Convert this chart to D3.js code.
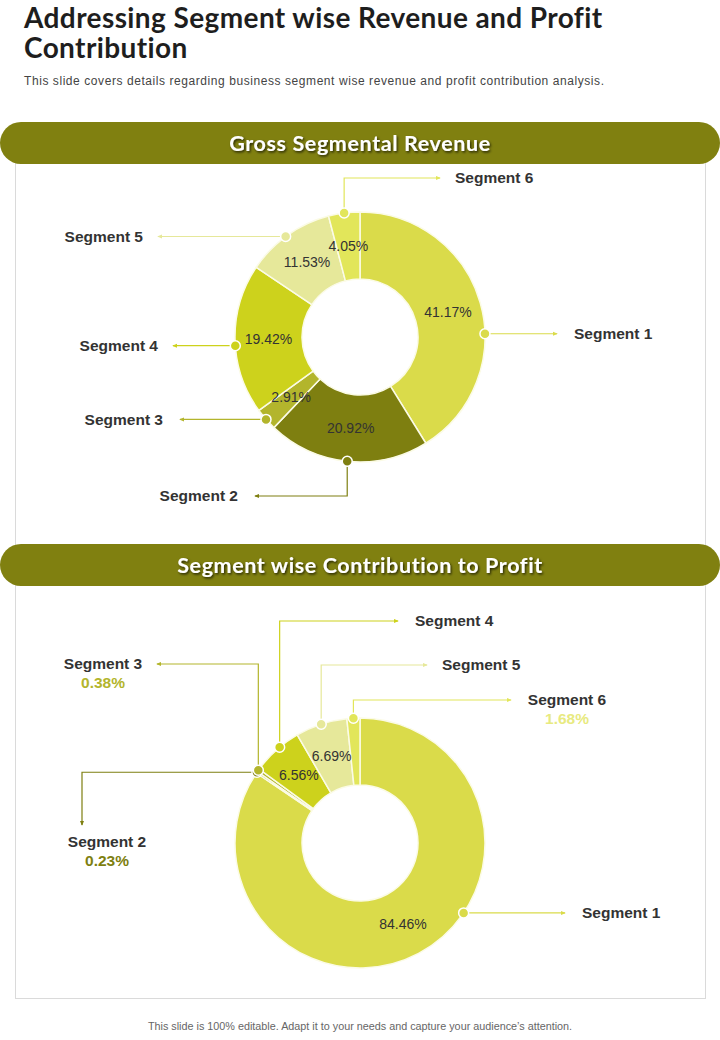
<!DOCTYPE html>
<html lang="en">
<head>
  <meta charset="UTF-8">
  <title>Addressing Segment wise Revenue and Profit Contribution</title>
  <style>
    body {
      margin: 0;
      padding: 0;
      background-color: #fff;
    }

    .title {
      font-family: Lato, "Open Sans", sans-serif;
      font-weight: 700;
      font-size: 28px;
      letter-spacing: 0.4px;
      fill: #1e1e1e;
    }

    .subtitle {
      font-family: "Liberation Sans", Arial, sans-serif;
      font-size: 12px;
      fill: #444;
    }

    .band-title {
      font-family: Lato, "Open Sans", sans-serif;
      font-weight: 700;
      font-size: 21.5px;
      letter-spacing: 0.6px;
      fill: #fff;
    }

    .seg-label {
      font-family: "Liberation Sans", Arial, sans-serif;
      font-weight: 700;
      font-size: 15.5px;
      fill: #333;
    }

    .seg-value {
      font-family: "Liberation Sans", Arial, sans-serif;
      font-weight: 700;
      font-size: 15.5px;
    }

    .pct {
      font-family: "Liberation Sans", Arial, sans-serif;
      font-size: 14px;
      fill: #333;
    }

    .footer {
      font-family: "Liberation Sans", Arial, sans-serif;
      font-size: 10.8px;
      fill: #666;
    }
  </style>
</head>
<body>
  <svg id="slide" width="720" height="1040"></svg>
  <script src="https://d3js.org/d3.v7.min.js"></script>
  <script>
    // data
    const segments = ['Segment 1', 'Segment 2', 'Segment 3', 'Segment 4', 'Segment 5', 'Segment 6'];
    const revenueShare = [41.17, 20.92, 2.91, 19.42, 11.53, 4.05];
    const profitShare = [84.46, 0.23, 0.38, 6.56, 6.69, 1.68];

    const segmentColors = ['#dadb4a', '#7e7f10', '#b3b52c', '#cdd21c', '#e6e89a', '#e2e65a'];
    const olive = '#808010';

    // callout layout for each chart (route: h = straight, vh = up/down then across, hv = across then down)
    const revenueCallouts = [
      { at: 88.5, route: 'h', endX: 557, labelX: 574, anchor: 'start' },
      { route: 'vh', elbow: 496, endX: 255, labelX: 238, anchor: 'end' },
      { route: 'h', endX: 180, labelX: 163, anchor: 'end' },
      { at: 266, route: 'h', endX: 173, labelX: 158, anchor: 'end' },
      { at: 323.5, route: 'h', endX: 158, labelX: 143, anchor: 'end' },
      { route: 'vh', elbow: 178, endX: 440, labelX: 455, anchor: 'start' }
    ];

    const profitCallouts = [
      { at: 124, route: 'h', endX: 565, labelX: 582, anchor: 'start' },
      { route: 'hv', elbow: 82, endY: 825, labelX: 107, labelY: 842, anchor: 'middle', showValue: true },
      { route: 'vh', elbow: 664, endX: 157, labelX: 103, anchor: 'middle', showValue: true },
      { at: 320, route: 'vh', elbow: 621, endX: 398, labelX: 415, anchor: 'start' },
      { route: 'vh', elbow: 665, endX: 427, labelX: 442, anchor: 'start' },
      { route: 'vh', elbow: 700, endX: 511, labelX: 567, anchor: 'middle', showValue: true }
    ];

    const svg = d3.select('#slide');

    const defs = svg.append('defs');
    const shadow = defs.append('filter')
      .attr('id', 'txtShadow')
      .attr('x', '-10%').attr('y', '-30%')
      .attr('width', '120%').attr('height', '160%');
    shadow.append('feDropShadow')
      .attr('dx', 1.2).attr('dy', 1.5)
      .attr('stdDeviation', 0.8)
      .attr('flood-color', '#000')
      .attr('flood-opacity', 0.7);

    segmentColors.forEach((c, i) => {
      defs.append('marker')
        .attr('id', `arrow${i}`)
        .attr('viewBox', '0 0 6 6')
        .attr('refX', 5).attr('refY', 3)
        .attr('markerWidth', 5).attr('markerHeight', 5)
        .attr('markerUnits', 'userSpaceOnUse')
        .attr('orient', 'auto')
        .append('path')
        .attr('d', 'M0,0.5 L6,3 L0,5.5 Z')
        .attr('fill', c);
    });

    // heading
    svg.append('text').attr('class', 'title').attr('x', 24).attr('y', 28)
      .text('Addressing Segment wise Revenue and Profit');
    svg.append('text').attr('class', 'title').attr('x', 24).attr('y', 58)
      .text('Contribution');
    svg.append('text').attr('class', 'subtitle').attr('x', 24).attr('y', 85)
      .attr('textLength', 580).attr('lengthAdjust', 'spacing')
      .text('This slide covers details regarding business segment wise revenue  and profit contribution analysis.');

    // panels
    svg.append('rect').attr('x', 15.5).attr('y', 143).attr('width', 690).attr('height', 422)
      .attr('fill', 'none').attr('stroke', '#dadada');
    svg.append('rect').attr('x', 15.5).attr('y', 565).attr('width', 690).attr('height', 433.5)
      .attr('fill', 'none').attr('stroke', '#dadada');

    function band(y, label) {
      svg.append('rect')
        .attr('x', 0).attr('y', y).attr('width', 720).attr('height', 42)
        .attr('rx', 21).attr('ry', 21)
        .attr('fill', olive);
      svg.append('text')
        .attr('class', 'band-title')
        .attr('x', 360).attr('y', y + 21)
        .attr('dy', '0.35em')
        .attr('text-anchor', 'middle')
        .attr('filter', 'url(#txtShadow)')
        .text(label);
    }

    band(122, 'Gross Segmental Revenue');
    band(544, 'Segment wise Contribution to Profit');

    function donut(values, cx, cy, callouts, innerOnly) {
      const outer = 125;
      const inner = 58;
      const rows = segments.map((s, i) => ({ name: s, value: values[i], i }));

      const pie = d3.pie().sort(null).value(d => d.value);
      const arc = d3.arc().innerRadius(inner).outerRadius(outer);
      const labelArc = d3.arc().innerRadius((inner + outer) / 2).outerRadius((inner + outer) / 2);
      const arcs = pie(rows);

      const g = svg.append('g').attr('transform', `translate(${cx}, ${cy})`);

      g.selectAll('path.slice')
        .data(arcs)
        .enter()
        .append('path')
        .attr('class', 'slice')
        .attr('d', arc)
        .attr('fill', d => segmentColors[d.data.i])
        .attr('stroke', '#fbfbe6')
        .attr('stroke-width', 1.5);

      g.selectAll('text.pct')
        .data(arcs.filter(d => innerOnly(d.data.value)))
        .enter()
        .append('text')
        .attr('class', 'pct')
        .attr('transform', d => `translate(${labelArc.centroid(d)})`)
        .attr('text-anchor', 'middle')
        .attr('dy', '0.35em')
        .text(d => `${d.data.value.toFixed(2)}%`);

      // callouts
      arcs.forEach((d, k) => {
        const c = callouts[k];
        const col = segmentColors[k];
        const ang = c.at !== undefined ? c.at * Math.PI / 180 : (d.startAngle + d.endAngle) / 2;
        const px = cx + outer * Math.sin(ang);
        const py = cy - outer * Math.cos(ang);

        let pts;
        let ly;
        if (c.route === 'h') {
          pts = [[px, py], [c.endX, py]];
          ly = py;
        } else if (c.route === 'vh') {
          pts = [[px, py], [px, c.elbow], [c.endX, c.elbow]];
          ly = c.elbow;
        } else {
          pts = [[px, py], [c.elbow, py], [c.elbow, c.endY]];
          ly = c.labelY;
        }

        svg.append('path')
          .attr('d', d3.line()(pts))
          .attr('fill', 'none')
          .attr('stroke', col)
          .attr('stroke-width', 1.2)
          .attr('marker-end', `url(#arrow${k})`);

        svg.append('circle')
          .attr('cx', px).attr('cy', py).attr('r', 5)
          .attr('fill', col)
          .attr('stroke', '#fff')
          .attr('stroke-width', 1.5);

        svg.append('text')
          .attr('class', 'seg-label')
          .attr('x', c.labelX).attr('y', ly)
          .attr('dy', '0.35em')
          .attr('text-anchor', c.anchor)
          .text(d.data.name);

        if (c.showValue) {
          svg.append('text')
            .attr('class', 'seg-value')
            .attr('x', c.labelX).attr('y', ly + 19)
            .attr('dy', '0.35em')
            .attr('text-anchor', c.anchor)
            .attr('fill', col === '#e2e65a' ? '#e8ea80' : col)
            .text(`${d.data.value.toFixed(2)}%`);
        }
      });
    }

    donut(revenueShare, 360, 337, revenueCallouts, () => true);
    donut(profitShare, 360, 843, profitCallouts, v => v > 5);

    svg.append('text')
      .attr('class', 'footer')
      .attr('x', 360).attr('y', 1026)
      .attr('dy', '0.35em')
      .attr('text-anchor', 'middle')
      .text('This slide is 100% editable.  Adapt it to your needs and capture your audience\u2019s attention.');
  </script>
</body>
</html>
